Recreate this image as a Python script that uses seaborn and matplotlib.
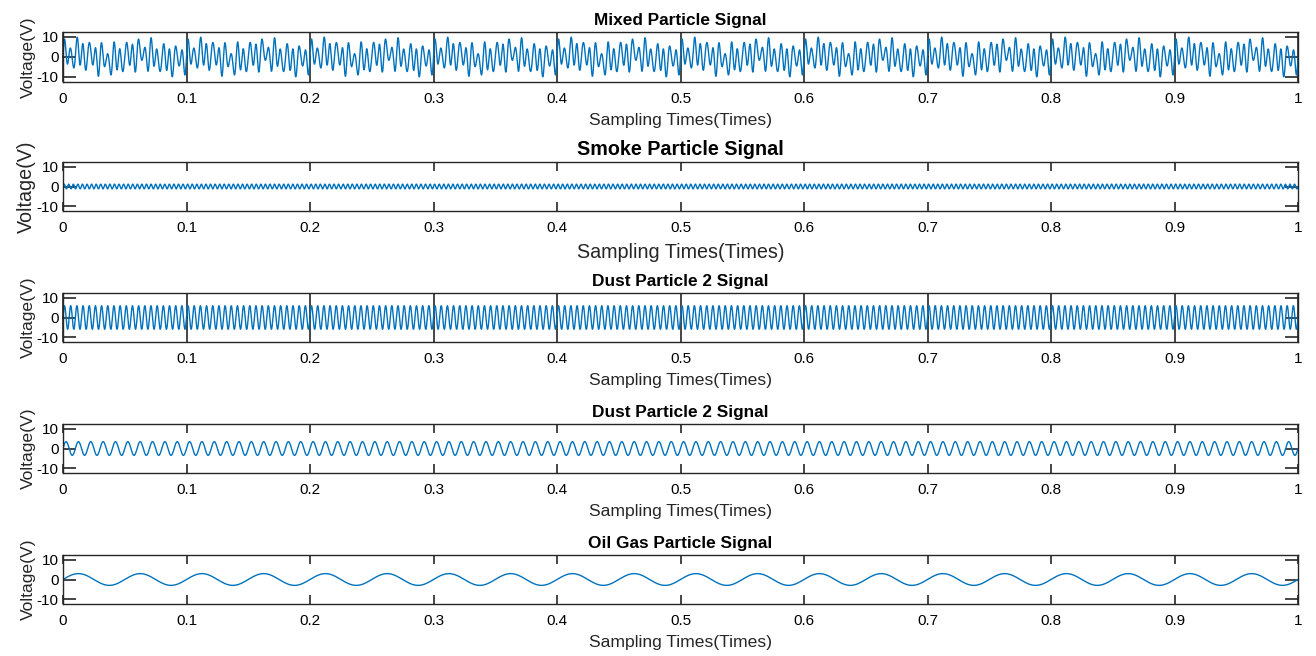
import numpy as np
import pandas as pd
import matplotlib
matplotlib.use("Agg")
import matplotlib.pyplot as plt
import seaborn as sns

# ---- data (component parameters) ----
titles = ["Mixed Particle Signal", "Smoke Particle Signal", "Dust Particle 2 Signal",
          "Dust Particle 2 Signal", "Oil Gas Particle Signal"]
smoke_amp, smoke_freq = 1.2, 270.0
dust2_amp, dust2_freq = 6.0, 200.0
dust1_amp, dust1_freq = 3.5, 100.0
oil_amp, oil_freq = 3.0, 20.0
# weights of each component inside the mixed signal (smoke, dust2, dust1, oil)
mix_weights = [1.0, 1.0, 0.7, 0.5]
n_samples = 6000
xticks = [0, 0.1, 0.2, 0.3, 0.4, 0.5, 0.6, 0.7, 0.8, 0.9, 1]
xtick_labels = ["0", "0.1", "0.2", "0.3", "0.4", "0.5", "0.6", "0.7", "0.8", "0.9", "1"]
yticks = [-10, 0, 10]
yticks_labels = ["-10", "0", "10"]

t = np.linspace(0, 1, n_samples)
smoke = smoke_amp * np.sin(2 * np.pi * smoke_freq * t)
dust2 = dust2_amp * np.sin(2 * np.pi * dust2_freq * t)
dust1 = dust1_amp * np.sin(2 * np.pi * dust1_freq * t)
oil = oil_amp * np.sin(2 * np.pi * oil_freq * t)
mixed = (mix_weights[0] * smoke + mix_weights[1] * dust2
         + mix_weights[2] * dust1 + mix_weights[3] * oil)
signals = [mixed, smoke, dust2, dust1, oil]

sns.set_theme(style="white")
plt.rcParams['font.family'] = ['Liberation Sans', 'DejaVu Sans']

W, H = 1316, 656
fig = plt.figure(figsize=(W / 100, H / 100), dpi=100)

# axes boxes in pixels: (top, bottom)
boxes = [(32, 82), (162, 211), (293, 342), (424, 473), (555, 604)]
left_px, right_px = 63, 1298
tick_len_x = [26, 9, 26, 9, 9]
big = [False, True, False, False, False]

for i, (sig, title) in enumerate(zip(signals, titles)):
    top, bot = boxes[i]
    ax = fig.add_axes([left_px / W, 1 - bot / H, (right_px - left_px) / W, (bot - top) / H])
    df = pd.DataFrame({"t": t, "v": sig})
    sns.lineplot(data=df, x="t", y="v", ax=ax, color="#0072BD", linewidth=1.0,
                 estimator=None, errorbar=None)
    ax.set_xlim(0, 1)
    ax.set_ylim(-12.5, 12.5)
    ax.set_xticks(xticks)
    ax.set_xticklabels(xtick_labels)
    ax.set_yticks(yticks)
    ax.set_yticklabels(yticks_labels)
    lab_fs = 14.2 if big[i] else 12.6
    ttl_fs = 14.2 if big[i] else 12.4
    ax.set_xlabel("Sampling Times(Times)", fontsize=lab_fs, color="#262626",
                  labelpad=6 if big[i] else 5)
    ax.set_ylabel("Voltage(V)", fontsize=lab_fs, color="#262626", labelpad=1)
    ax.set_title(title, fontsize=ttl_fs, fontweight="bold", color="black", pad=5)
    ax.tick_params(axis="x", direction="in", top=True, bottom=True,
                   length=tick_len_x[i] * 0.72, width=1.2, color="#262626",
                   labelsize=11, labelcolor="black", pad=7)
    ax.tick_params(axis="y", direction="in", left=True, right=True,
                   length=9.5, width=1.2, color="#262626",
                   labelsize=11, labelcolor="black", pad=3)
    for s in ax.spines.values():
        s.set_color("#262626")
        s.set_linewidth(1.0)
        s.set_visible(True)

fig.savefig("out.png", dpi=100, facecolor="white")
